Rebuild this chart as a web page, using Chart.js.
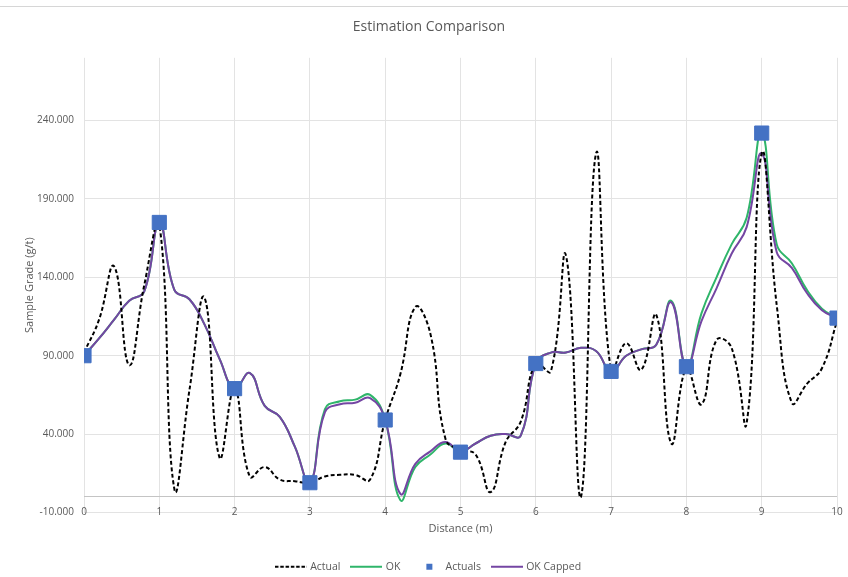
<!DOCTYPE html>
<html>
<head>
<meta charset="utf-8">
<title>Estimation Comparison</title>
<script src="https://cdn.jsdelivr.net/npm/chart.js@4/dist/chart.umd.min.js"></script>
<style>
    body { margin: 0; background: #fff; }
    #wrap { position: relative; width: 848px; height: 577px; }
    #wrap:before { content: ''; position: absolute; left: 0; right: 0; top: 6px; height: 1px; background: #d6d6d6; }
</style>
</head>
<body>
<div id="wrap"><canvas id="chart" width="848" height="577"></canvas></div>
<script>
// distance along the hole (m)
const distance = [0, 0.2, 0.4, 0.6, 0.8, 1, 1.2, 1.4, 1.6, 1.8,
    2, 2.2, 2.4, 2.6, 2.8, 3, 3.2, 3.4, 3.6, 3.8,
    4, 4.2, 4.4, 4.6, 4.8, 5, 5.2, 5.4, 5.6, 5.8,
    6, 6.2, 6.4, 6.6, 6.8, 7, 7.2, 7.4, 7.6, 7.8,
    8, 8.2, 8.4, 8.6, 8.8, 9, 9.2, 9.4, 9.6, 9.8, 10];

const actual = [92, 113, 147, 84, 135, 174, 5, 68, 127, 25,
    69, 13, 19, 11, 10, 9, 13, 14, 14, 11,
    49, 78, 121, 104, 37, 30, 27, 3, 35, 48,
    85, 80, 154, 0, 219, 80, 98, 81, 116, 34,
    82, 59, 100, 95, 47, 219, 122, 60, 72, 82, 112];

const ok = [90, 101, 113, 125, 131, 175, 132, 126, 110, 88,
    69, 79, 58, 51, 32, 9, 56, 61, 62, 65,
    49, -2, 19, 27, 34, 29, 34, 39, 40, 39,
    85, 92, 92, 95, 93, 80, 90, 94, 97, 125,
    83, 117, 140, 161, 178, 232, 161, 149, 132, 120, 114];

const okCapped = [90, 101, 113, 125, 131, 175, 132, 126, 110, 88,
    69, 79, 58, 51, 32, 9, 54, 59, 60, 63,
    49, 2, 21, 29, 35, 29, 34, 39, 40, 39,
    85, 92, 92, 95, 93, 80, 90, 94, 97, 124,
    83, 112, 133, 155, 172, 219, 156, 146, 130, 119, 114];

// sample points
const sampleDistance = [0, 1, 2, 3, 4, 5, 6, 7, 8, 9, 10];
const sampleGrade = [90, 175, 69, 9, 49, 28.5, 85, 80, 83, 232, 114];

const yTicks = [-10, 0, 40, 90, 140, 190, 240];
const xTicks = [0, 1, 2, 3, 4, 5, 6, 7, 8, 9, 10];

const textColor = '#595959';
const font = 'Open Sans';

function pts(xs, ys) {
    return xs.map(function(x, i) { return { x: x, y: ys[i] }; });
}

// little canvases used as legend keys
function legendKey(draw) {
    var c = document.createElement('canvas');
    c.width = 32;
    c.height = 8;
    draw(c.getContext('2d'));
    return c;
}
function lineKey(color, dash, width) {
    return legendKey(function(g) {
        g.strokeStyle = color;
        g.lineWidth = width;
        g.setLineDash(dash);
        g.beginPath();
        g.moveTo(0, 4);
        g.lineTo(32, 4);
        g.stroke();
    });
}
const keys = [
    lineKey('#000000', [3.5, 1.8], 2),
    lineKey('#2fb56a', [], 2),
    legendKey(function(g) { g.fillStyle = '#4472C4'; g.fillRect(16, 1, 6, 6); }),
    lineKey('#7446a3', [], 2)
];

new Chart(document.getElementById('chart'), {
    type: 'line',
    data: {
        datasets: [{
            label: 'Actual',
            data: pts(distance, actual),
            borderColor: '#000000',
            borderWidth: 2,
            borderDash: [4, 2.5],
            pointRadius: 0,
            tension: 0.45,
            order: 1
        }, {
            label: 'OK',
            data: pts(distance, ok),
            borderColor: '#2fb56a',
            borderWidth: 2,
            pointRadius: 0,
            tension: 0.45,
            order: 3
        }, {
            label: 'Actuals',
            data: pts(sampleDistance, sampleGrade),
            showLine: false,
            pointStyle: 'rect',
            pointRadius: 10,
            pointBackgroundColor: '#4472C4',
            pointBorderColor: '#4472C4',
            order: 0
        }, {
            label: 'OK Capped',
            data: pts(distance, okCapped),
            borderColor: '#7446a3',
            borderWidth: 2,
            pointRadius: 0,
            tension: 0.45,
            order: 2
        }]
    },
    options: {
        responsive: false,
        animation: false,
        layout: { padding: { top: 15, left: 19, right: 9, bottom: -5 } },
        plugins: {
            title: {
                display: true,
                text: 'Estimation Comparison',
                color: textColor,
                font: { family: font, size: 14, weight: 'normal' },
                padding: { top: 4, bottom: 22 }
            },
            legend: {
                position: 'bottom',
                labels: {
                    usePointStyle: true,
                    pointStyleWidth: 28,
                    padding: 12,
                    color: textColor,
                    font: { family: font, size: 10.5 },
                    sort: function(a, b) { return a.datasetIndex - b.datasetIndex; },
                    generateLabels: function(chart) {
                        return chart.data.datasets.map(function(ds, i) {
                            return {
                                text: ds.label,
                                pointStyle: keys[i],
                                fillStyle: 'transparent',
                                strokeStyle: 'transparent',
                                lineWidth: 0,
                                fontColor: textColor,
                                hidden: false,
                                datasetIndex: i
                            };
                        });
                    }
                }
            },
            tooltip: { enabled: false }
        },
        scales: {
            x: {
                type: 'linear',
                min: 0,
                max: 10,
                afterBuildTicks: function(axis) {
                    axis.ticks = xTicks.map(function(v) { return { value: v }; });
                },
                afterFit: function(axis) {
                    axis.height = 37;
                    // labels sit on the bottom gridline, so don't clip them to the axis box
                    axis._computeLabelArea = function() {};
                },
                grid: { color: '#e3e3e3', drawTicks: false },
                border: { display: false },
                ticks: {
                    color: textColor,
                    font: { family: font, size: 10 },
                    padding: -6,
                    maxRotation: 0
                },
                title: {
                    display: true,
                    text: 'Distance (m)',
                    color: textColor,
                    font: { family: font, size: 11 },
                    padding: { top: 4, bottom: 14.4 }
                }
            },
            y: {
                min: -10,
                max: 280,
                afterBuildTicks: function(axis) {
                    axis.ticks = yTicks.map(function(v) { return { value: v }; });
                },
                afterFit: function(axis) { axis.width = 65; },
                grid: {
                    drawTicks: false,
                    color: function(c) { return c.tick && c.tick.value === 0 ? '#c4c4c4' : '#e3e3e3'; }
                },
                border: { display: false },
                ticks: {
                    color: textColor,
                    font: { family: font, size: 10 },
                    padding: 10,
                    callback: function(v) { return v === 0 ? '' : v.toFixed(3); }
                },
                title: {
                    display: true,
                    text: 'Sample Grade (g/t)',
                    color: textColor,
                    font: { family: font, size: 11 },
                    padding: { top: 4, bottom: 4 }
                }
            }
        }
    }
});
</script>
</body>
</html>
